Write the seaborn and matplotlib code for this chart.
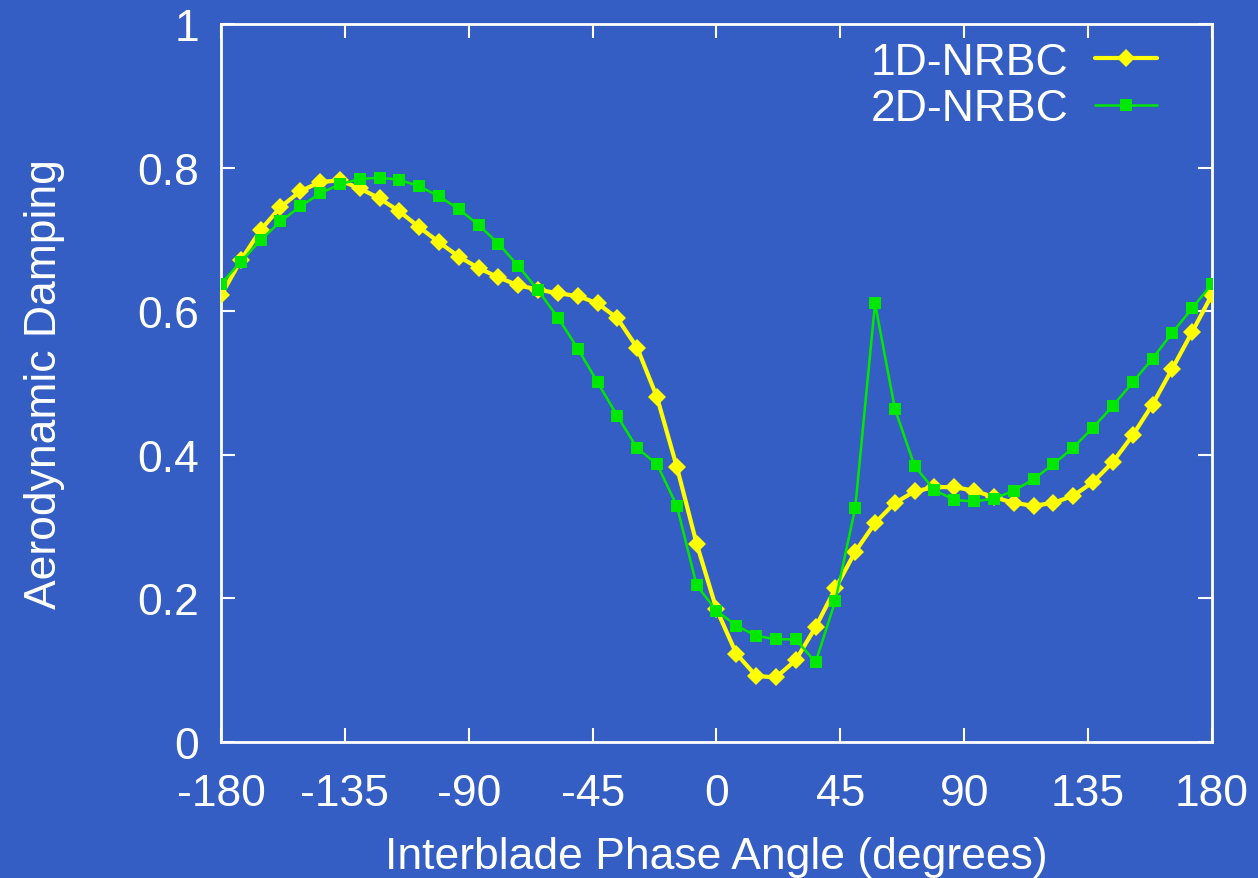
import numpy as np
import pandas as pd
import matplotlib
matplotlib.use("Agg")
import matplotlib.pyplot as plt
import seaborn as sns

# Interblade phase angle (degrees): 51 points, step 7.2
phase = [-180.0, -172.8, -165.6, -158.4, -151.2, -144.0, -136.8, -129.6, -122.4, -115.2,
         -108.0, -100.8, -93.6, -86.4, -79.2, -72.0, -64.8, -57.6, -50.4, -43.2,
         -36.0, -28.8, -21.6, -14.4, -7.2, 0.0, 7.2, 14.4, 21.6, 28.8,
         36.0, 43.2, 50.4, 57.6, 64.8, 72.0, 79.2, 86.4, 93.6, 100.8,
         108.0, 115.2, 122.4, 129.6, 136.8, 144.0, 151.2, 158.4, 165.6, 172.8, 180.0]

damping_1d = [0.622, 0.671, 0.713, 0.745, 0.767, 0.780, 0.782, 0.771, 0.757, 0.739,
              0.717, 0.696, 0.676, 0.660, 0.647, 0.636, 0.630, 0.625, 0.621, 0.611,
              0.590, 0.549, 0.480, 0.383, 0.276, 0.185, 0.123, 0.092, 0.090, 0.114,
              0.160, 0.214, 0.265, 0.305, 0.333, 0.349, 0.355, 0.355, 0.350, 0.341,
              0.333, 0.329, 0.333, 0.343, 0.362, 0.390, 0.427, 0.470, 0.520, 0.571, 0.623]

damping_2d = [0.638, 0.669, 0.699, 0.725, 0.746, 0.764, 0.777, 0.784, 0.786, 0.783,
              0.774, 0.760, 0.742, 0.720, 0.694, 0.663, 0.629, 0.591, 0.548, 0.501,
              0.454, 0.409, 0.387, 0.329, 0.218, 0.183, 0.162, 0.148, 0.143, 0.143,
              0.111, 0.197, 0.326, 0.611, 0.464, 0.384, 0.351, 0.337, 0.335, 0.339,
              0.350, 0.366, 0.387, 0.410, 0.438, 0.468, 0.501, 0.534, 0.570, 0.604, 0.638]

x_ticks = [-180, -135, -90, -45, 0, 45, 90, 135, 180]
y_ticks = [0, 0.2, 0.4, 0.6, 0.8, 1]
y_tick_labels = ["0", "0.2", "0.4", "0.6", "0.8", "1"]

BG = "#345EC4"
FG = "white"

sns.set_theme(style="ticks")
plt.rcParams["font.family"] = ["Liberation Sans", "DejaVu Sans"]

fig = plt.figure(figsize=(12.58, 8.79), dpi=100, facecolor=BG)
ax = fig.add_axes([0.1757, 0.1547, 0.9634 - 0.1757, 0.9716 - 0.1547])
ax.set_facecolor(BG)

df1 = pd.DataFrame({"x": phase, "y": damping_1d})
df2 = pd.DataFrame({"x": phase, "y": damping_2d})

sns.lineplot(data=df1, x="x", y="y", ax=ax, color="#FFFF00", linewidth=3.0,
             marker="D", markersize=9, markeredgewidth=0, sort=False,
             estimator=None, label="1D-NRBC", zorder=3)
sns.lineplot(data=df2, x="x", y="y", ax=ax, color="#00E800", linewidth=1.8,
             marker="s", markersize=8.5, markeredgewidth=0, sort=False,
             estimator=None, label="2D-NRBC", zorder=4)

ax.set_xlim(-180, 180)
ax.set_ylim(0, 1)
ax.set_xticks(x_ticks)
ax.set_xticklabels([str(t) for t in x_ticks])
ax.set_yticks(y_ticks)
ax.set_yticklabels(y_tick_labels)

for s in ax.spines.values():
    s.set_visible(True)
    s.set_color(FG)
    s.set_linewidth(2)

ax.tick_params(axis="both", which="both", direction="in", length=10, width=1.5,
               colors=FG, labelsize=32, top=True, right=True,
               labeltop=False, labelright=False)
ax.tick_params(axis="x", pad=22)
ax.tick_params(axis="y", pad=16)

ax.set_xlabel("Interblade Phase Angle (degrees)", fontsize=32, color=FG, labelpad=16)
ax.set_ylabel("Aerodynamic Damping", fontsize=32, color=FG, labelpad=52)

leg = ax.legend(loc="upper right", bbox_to_anchor=(0.9445, 0.975), frameon=False,
                markerfirst=False, fontsize=32, handlelength=1.4, labelspacing=0.12,
                borderaxespad=0, borderpad=0, handletextpad=0.6)
for t in leg.get_texts():
    t.set_color(FG)

fig.savefig("out.png", dpi=100, facecolor=BG)
